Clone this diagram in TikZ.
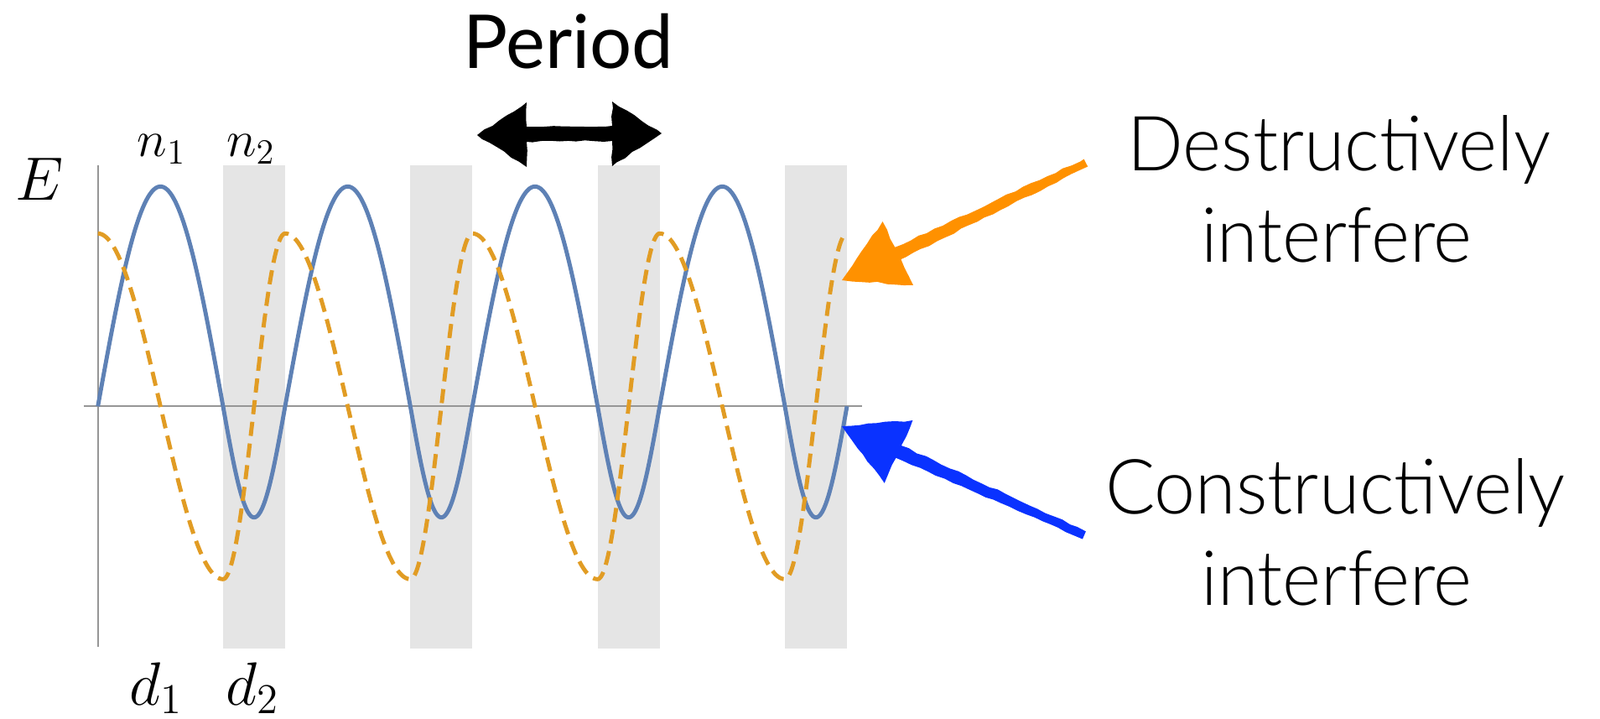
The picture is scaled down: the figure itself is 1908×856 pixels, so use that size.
\documentclass[tikz,border=0pt]{standalone}
\usepackage{fontspec}
\setmainfont{Lato}
\newfontfamily\lightfont[FakeStretch=0.97]{Lato Light}
\usetikzlibrary{calc,decorations.pathmorphing}

\definecolor{wblue}{RGB}{94,129,181}
\definecolor{worange}{RGB}{225,156,36}
\definecolor{aorange}{RGB}{255,145,0}
\definecolor{ablue}{RGB}{10,50,255}
\definecolor{bandgray}{RGB}{229,229,229}
\definecolor{axisgray}{RGB}{150,150,150}

\tikzset{
  bandfill/.style={fill=bandgray},
  axisline/.style={draw=axisgray, line width=0.6pt},
  bluewave/.style={draw=wblue, line width=1.4pt, line join=round},
  orangewave/.style={draw=worange, line width=1.4pt, dash pattern=on 4.8pt off 2.6pt},
  mlabel/.style={inner sep=0pt, anchor=base, font=\fontsize{17.5}{20}\selectfont},
  elabel/.style={inner sep=0pt, anchor=base, font=\fontsize{21}{24}\selectfont},
  dlabel/.style={inner sep=0pt, anchor=base, font=\fontsize{21}{24}\selectfont},
  lighttext/.style={inner sep=0pt, anchor=base, font=\lightfont\fontsize{25.8}{30}\selectfont},
  periodtext/.style={inner sep=0pt, anchor=base, font=\fontsize{25.2}{30}\selectfont},
  sketch/.style={decorate, decoration={random steps, segment length=3pt, amplitude=0.3pt}},
}

\begin{document}
\begin{tikzpicture}[x=0.01cm, y=-0.01cm,
  declare function={
    sb(\s) = (\s<149.3) ? (-262*sin(1.20563*\s)) : (132.4*sin(2.43243*(\s-149.3)));
    so(\s) = (\s<149.3) ? (-206*cos(1.20563*\s)) : (206*cos(2.43243*(\s-149.3)));
  }]
\useasboundingbox (0,0) rectangle (1908,856);

% layer bands
\foreach \k in {0,...,3}
  \fill[bandfill] ({266+223.33*\k},197) rectangle ++(74,576);

% axes
\draw[axisline] (100,484.3) -- (1028.3,484.3);
\draw[axisline] (116.7,197) -- (116.7,771);

% blue field
\draw[bluewave] plot[domain=0:893.3, samples=721, variable=\t]
  ({116.7+\t},{484.3+sb(mod(\t,223.33))});

% orange field
\draw[orangewave] plot[domain=0:893.3, samples=721, variable=\t]
  ({116.7+\t},{484.3+so(mod(\t,223.33))});

% labels
\node[elabel] (E) at (47,238) {$E$};
\node[mlabel] (n1) at (192.7,186) {$n_1$};
\node[mlabel] (n2) at (299,186) {$n_2$};
\node[dlabel] (d1) at (186,840) {$d_1$};
\node[dlabel] (d2) at (301,840) {$d_2$};

\node[periodtext] (period) at (678,81.7) {Period};

% period arrow
\coordinate (pl) at (569,161);
\coordinate (pr) at (789,159);
\fill[black, sketch] (pl) -- (628,122) -- (628,151) -- (730,150) -- (730,121) -- (pr)
  -- (730,198) -- (730,168) -- (628,169) -- (628,199) -- cycle;

% destructive arrow
\coordinate (otip) at (1004,334);
\coordinate (otail) at (1295,194);
\coordinate (ob) at ($(otip)!0.74cm!(otail)$);
\fill[aorange, sketch] (otip) -- ($(ob)!0.42cm!90:(otail)$) -- ($(ob)!0.08cm!90:(otail)$)
  -- ($(otail)!0.05cm!-90:(ob)$) -- ($(otail)!0.05cm!90:(ob)$)
  -- ($(ob)!0.08cm!-90:(otail)$) -- ($(ob)!0.42cm!-90:(otail)$) -- cycle;

% constructive arrow
\coordinate (btip) at (1004,508);
\coordinate (btail) at (1293,638);
\coordinate (bb) at ($(btip)!0.74cm!(btail)$);
\fill[ablue, sketch] (btip) -- ($(bb)!0.41cm!90:(btail)$) -- ($(bb)!0.08cm!90:(btail)$)
  -- ($(btail)!0.05cm!-90:(bb)$) -- ($(btail)!0.05cm!90:(bb)$)
  -- ($(bb)!0.08cm!-90:(btail)$) -- ($(bb)!0.41cm!-90:(btail)$) -- cycle;

% right-hand texts
\node[lighttext] (dest1) at (1596.7,203.3) {Destructively};
\node[lighttext] (dest2) at (1593.8,312.7) {interfere};
\node[lighttext] (cons1) at (1592.3,612.7) {Constructively};
\node[lighttext] (cons2) at (1594,721.7) {interfere};
\end{tikzpicture}
\end{document}
